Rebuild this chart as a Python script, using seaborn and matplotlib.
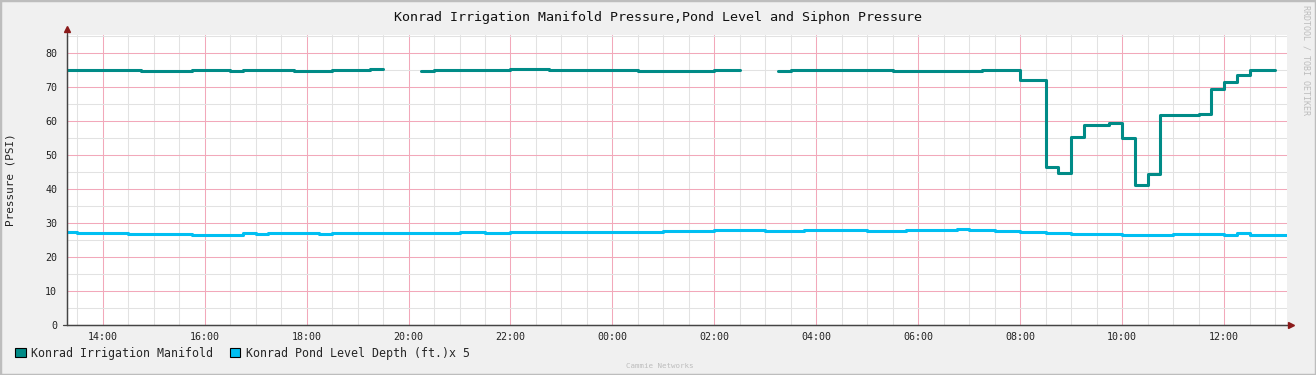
import numpy as np
import pandas as pd
import matplotlib
matplotlib.use("Agg")
import matplotlib.pyplot as plt
import matplotlib.dates as mdates
from matplotlib.patches import Patch, Rectangle
import seaborn as sns

# ======= Data (step changes only) ================================
DAY0 = "2024-06-01 "

# manifold pressure, three logged segments (gaps between them = no data)
manifold_seg1_t = ["13:18", "13:30", "14:45", "15:45", "16:30", "16:45", "17:45", "18:30", "19:15", "19:30"]
manifold_seg1_v = [75.1, 75.0, 74.7, 74.9, 74.8, 75.1, 74.8, 75.0, 75.2, 75.2]

manifold_seg2_t = ["20:15", "20:30", "21:45", "22:00", "22:45", "00:30", "01:30", "02:00", "02:30"]
manifold_seg2_v = [74.6, 75.0, 75.0, 75.2, 75.0, 74.8, 74.6, 75.0, 75.0]

manifold_seg3_t = ["03:15", "03:30", "05:30", "06:15", "06:45", "07:15", "08:00", "08:30", "08:45",
                   "09:00", "09:15", "09:45", "10:00", "10:15", "10:30", "10:45", "11:30", "11:45",
                   "12:00", "12:15", "12:30", "13:00"]
manifold_seg3_v = [74.6, 75.0, 74.8, 74.6, 74.8, 75.0, 72.1, 46.4, 44.7,
                   55.2, 58.9, 59.3, 55.0, 41.3, 44.4, 61.8, 62.1, 69.4,
                   71.5, 73.6, 75.0, 75.0]

# pond level depth (ft.) x 5
pond_t = ["13:18", "13:30", "13:45", "14:30", "15:00", "15:45", "16:45", "17:00", "17:15", "18:15",
          "18:30", "19:30", "20:30", "21:00", "21:30", "22:00", "23:00", "23:30", "00:30", "01:00",
          "01:30", "02:00", "03:00", "03:45", "04:15", "04:30", "05:00", "05:30", "05:45", "06:00",
          "06:15", "06:45", "07:00", "07:15", "07:30", "08:00", "08:30", "09:00", "09:45", "10:00",
          "10:30", "11:00", "11:45", "12:00", "12:15", "12:30", "13:00", "13:16"]
pond_v = [27.4, 27.0, 27.1, 26.9, 26.7, 26.6, 27.1, 26.9, 27.1, 26.7,
          27.0, 27.2, 27.1, 27.3, 27.1, 27.4, 27.3, 27.4, 27.5, 27.6,
          27.7, 27.8, 27.7, 28.0, 27.8, 28.0, 27.7, 27.6, 27.9, 28.0,
          27.8, 28.1, 27.8, 28.0, 27.7, 27.3, 27.0, 26.8, 26.7, 26.5,
          26.6, 26.7, 26.9, 26.6, 27.0, 26.5, 26.6, 26.6]

TITLE = "Konrad Irrigation Manifold Pressure,Pond Level and Siphon Pressure"
YLABEL = "Pressure (PSI)"
LEGEND_LABELS = ["Konrad Irrigation Manifold", "Konrad Pond Level Depth (ft.)x 5"]

MANIFOLD_COLOR = "#008B87"
POND_COLOR = "#00BFF2"


def to_times(hhmm_list, first_day=0):
    # clock times -> timestamps, rolling over to the next day after midnight
    out = []
    day = first_day
    prev = None
    for s in hhmm_list:
        t = pd.Timestamp(DAY0 + s) + pd.Timedelta(days=day)
        if prev is not None and t < prev:
            day += 1
            t += pd.Timedelta(days=1)
        out.append(t)
        prev = t
    return out


# ======= Figure ========
sns.set_style("white")
plt.rcParams["font.family"] = ["DejaVu Sans Mono", "DejaVu Sans"]

W, H = 1316, 375
fig = plt.figure(figsize=(W / 100, H / 100), dpi=100, facecolor="#F0F0F0")
ax = fig.add_axes([67 / W, 1 - 325 / H, (1287 - 67) / W, (325 - 35) / H])
ax.set_facecolor("white")

for seg_t, seg_v, day in [(manifold_seg1_t, manifold_seg1_v, 0),
                          (manifold_seg2_t, manifold_seg2_v, 0),
                          (manifold_seg3_t, manifold_seg3_v, 1)]:
    df = pd.DataFrame({"time": to_times(seg_t, day), "psi": seg_v})
    sns.lineplot(data=df, x="time", y="psi", ax=ax, color=MANIFOLD_COLOR,
                 drawstyle="steps-post", linewidth=2.2, zorder=4)

pond_df = pd.DataFrame({"time": to_times(pond_t, 0), "psi": pond_v})
sns.lineplot(data=pond_df, x="time", y="psi", ax=ax, color=POND_COLOR,
             drawstyle="steps-post", linewidth=2.2, zorder=3)

# axes range
x0 = pd.Timestamp(DAY0 + "13:18")
x1 = x0 + pd.Timedelta(hours=23, minutes=56)
ax.set_xlim(x0, x1)
ax.set_ylim(0, 85.3)

# grid: red majors, gray minors
ax.xaxis.set_major_locator(mdates.HourLocator(byhour=range(0, 24, 2)))
ax.xaxis.set_minor_locator(mdates.MinuteLocator(byminute=[0, 30]))
ax.xaxis.set_major_formatter(mdates.DateFormatter("%H:%M"))
ax.set_yticks(np.arange(0, 81, 10))
ax.set_yticks(np.arange(5, 86, 10), minor=True)
ax.grid(True, which="major", color="#F2A8BA", linewidth=0.75, zorder=1)
ax.grid(True, which="minor", color="#E2E2E2", linewidth=0.75, zorder=0)
ax.set_axisbelow(True)

ax.tick_params(axis="both", which="major", labelsize=7.2, color="#F2A8BA",
               labelcolor="#222222", direction="out", width=0.75)
ax.tick_params(axis="x", which="major", length=0, pad=5)
ax.tick_params(axis="y", which="major", length=3, pad=4)
ax.tick_params(axis="both", which="minor", length=0)

ax.set_xlabel("")
ax.set_ylabel(YLABEL, fontsize=7.9, color="#222222")
ax.yaxis.set_label_coords(-51 / (1287 - 67), 0.5)

for side in ["top", "right"]:
    ax.spines[side].set_visible(False)
for side in ["left", "bottom"]:
    ax.spines[side].set_color("#444444")
    ax.spines[side].set_linewidth(0.9)

# axis arrows
arrow_col = "#8B1A1A"
fig.add_artist(plt.Line2D([67 / W, 67 / W], [1 - 325 / H, 1 - 30 / H], color="#444444", lw=0.9))
fig.add_artist(plt.Line2D([63 / W, 1290 / W], [1 - 325 / H, 1 - 325 / H], color="#444444", lw=0.9))
fig.add_artist(plt.Line2D([67 / W], [1 - 29 / H], marker="^", markersize=4, color=arrow_col))
fig.add_artist(plt.Line2D([1291 / W], [1 - 325 / H], marker=">", markersize=4, color=arrow_col))

# title
fig.text(0.5, 1 - 17 / H, TITLE, ha="center", va="center", fontsize=9.6, color="#111111")

# legend
handles = [Patch(facecolor=MANIFOLD_COLOR, edgecolor="black", linewidth=0.8),
           Patch(facecolor=POND_COLOR, edgecolor="black", linewidth=0.8)]
fig.legend(handles, LEGEND_LABELS, loc="center left", bbox_to_anchor=(15 / W, 1 - 353 / H),
           ncol=2, frameon=False, fontsize=8.4, handlelength=0.9, handleheight=0.9,
           handletextpad=0.5, columnspacing=1.4, borderpad=0, borderaxespad=0)

# watermarks
fig.text(1306 / W, 1 - 60 / H, "RRDTOOL / TOBI OETIKER", rotation=-90, ha="center", va="center",
         fontsize=6, color="#BDBDBD")
fig.text(660 / W, 1 - 366 / H, "Cammie Networks", ha="center", va="center",
         fontsize=5.4, color="#BDBDBD")

# bevelled outer frame
fig.add_artist(Rectangle((0, 0), 1, 1, transform=fig.transFigure, fill=False,
                         edgecolor="#BDBDBD", linewidth=2.5))

fig.savefig("out.png", dpi=100, facecolor=fig.get_facecolor())
